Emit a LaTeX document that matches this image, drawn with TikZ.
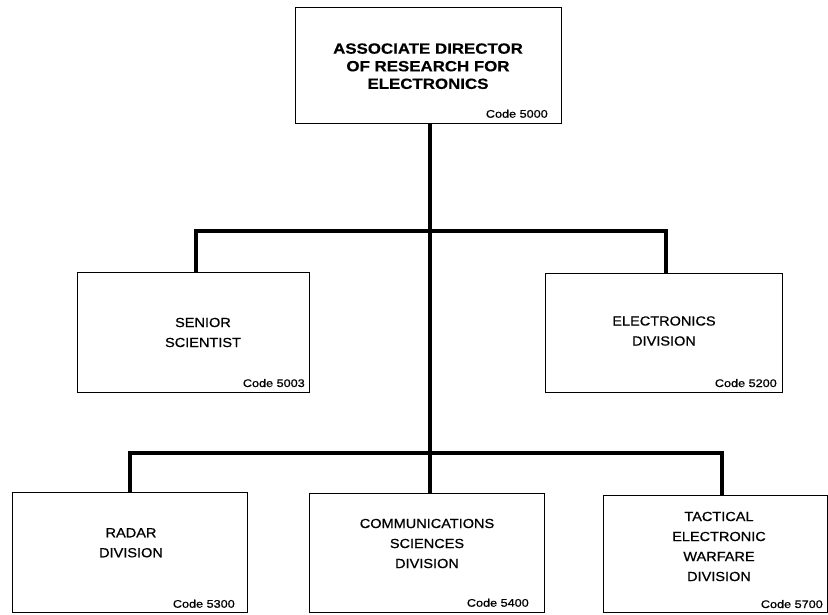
\documentclass[tikz,border=0pt]{standalone}
\usepackage{fontspec}
\setmainfont{Liberation Sans}
\newfontfamily\headf[FakeStretch=1.14,FakeBold=0.4]{Liberation Sans}
\newfontfamily\mainf[FakeStretch=1.1,FakeBold=0.7]{Liberation Sans}
\newfontfamily\codef[FakeStretch=1.15,FakeBold=0.8]{Liberation Sans}
\begin{document}
\begin{tikzpicture}[x=1pt,y=-1pt,
  box/.style={draw, rectangle, line width=1.2pt, inner sep=0pt, anchor=north west},
  headtext/.style={align=center, inner sep=0pt, font=\headf\bfseries\fontsize{14.8}{17.6}\selectfont},
  title/.style={align=center, inner sep=0pt, font=\mainf\fontsize{13.2}{20}\selectfont},
  codetext/.style={anchor=base east, inner sep=0pt, font=\codef\fontsize{11}{13}\selectfont},
  link/.style={line width=4.6pt, line join=miter}]
\useasboundingbox (0,0) rectangle (828,615);

% boxes
\node[box, minimum width=266pt, minimum height=116pt] (b0) at (295,7) {};
\node[box, minimum width=232pt, minimum height=120pt] (b1) at (77,272) {};
\node[box, minimum width=237pt, minimum height=119pt] (b2) at (545,273) {};
\node[box, minimum width=235pt, minimum height=120pt] (b3) at (12,492) {};
\node[box, minimum width=235pt, minimum height=119pt] (b4) at (309,493) {};
\node[box, minimum width=224pt, minimum height=117pt] (b5) at (603,495) {};

% titles
\node[headtext] (t0) at (428,66.2) {ASSOCIATE DIRECTOR\\OF RESEARCH FOR\\ELECTRONICS};
\node[title] (t1) at (203,332.5) {SENIOR\\SCIENTIST};
\node[title] (t2) at (664,331) {ELECTRONICS\\DIVISION};
\node[title] (t3) at (131,542.8) {RADAR\\DIVISION};
\node[title] (t4) at (427,543.5) {COMMUNICATIONS\\SCIENCES\\DIVISION};
\node[title] (t5) at (719,546.5) {TACTICAL\\ELECTRONIC\\WARFARE\\DIVISION};

% codes
\node[codetext] (c0) at (548,117.7) {Code 5000};
\node[codetext] (c1) at (305,387) {Code 5003};
\node[codetext] (c2) at (777,387) {Code 5200};
\node[codetext] (c3) at (235,607.7) {Code 5300};
\node[codetext] (c4) at (529,606.7) {Code 5400};
\node[codetext] (c5) at (823,608) {Code 5700};

% junctions
\coordinate (m1) at (430,231);
\coordinate (l1) at (196,231);
\coordinate (r1) at (666,231);
\coordinate (l2) at (130,453);
\coordinate (r2) at (722,453);

% connectors
\draw[link] (m1 |- b0.south) -- (m1 |- b4.north);
\draw[link] (l1 |- b1.north) -- (l1) -- (r1) -- (r1 |- b2.north);
\draw[link] (l2 |- b3.north) -- (l2) -- (r2) -- (r2 |- b5.north);
\end{tikzpicture}
\end{document}
